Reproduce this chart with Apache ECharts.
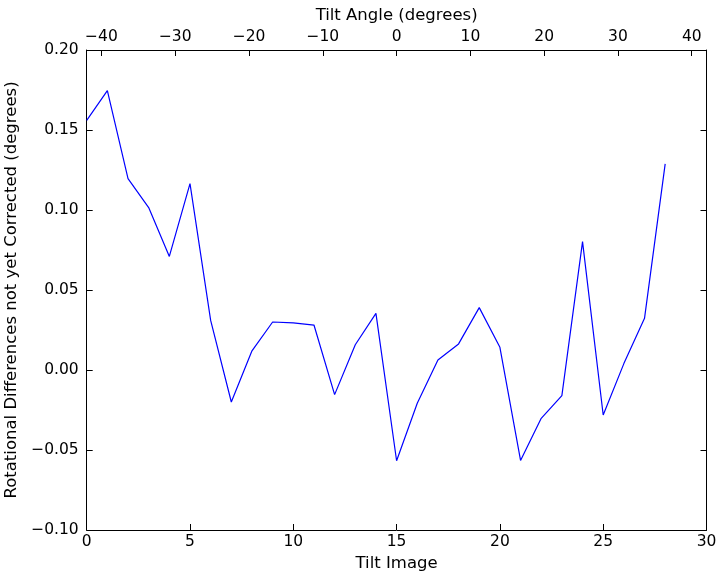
<!DOCTYPE html>
<html>
<head>
<meta charset="utf-8">
<script src="https://cdn.jsdelivr.net/npm/echarts@6/dist/echarts.min.js"></script>
<style>html,body{margin:0;padding:0;background:#fff;}#c{width:725px;height:579px;}</style>
</head>
<body>
<div id="c"></div>
<script>
var tiltImages = [0,1,2,3,4,5,6,7,8,9,10,11,12,13,14,15,16,17,18,19,20,21,22,23,24,25,26,27,28];
var rotDiff = [0.156,0.1746,0.1196,0.1015,0.0710,0.1165,0.031,-0.020,0.012,0.030,0.0294,0.0281,-0.0154,0.0158,0.0354,-0.0567,-0.0208,0.0063,0.0163,0.0390,0.0142,-0.0565,-0.0302,-0.0160,0.0802,-0.0281,0.004,0.0323,0.1288];
var angleTicks = [-40,-30,-20,-10,0,10,20,30,40];
var yTicks = [-0.10,-0.05,0.00,0.05,0.10,0.15,0.20];
var bottomTicks = [0,5,10,15,20,25,30];

var FONT = 'DejaVu Sans';
var minus = function(s){ return String(s).replace('-', '\u2212'); };
var chart = echarts.init(document.getElementById('c'), null, {renderer:'canvas'});
var lbl = {color:'#000', fontFamily:FONT, fontSize:15.5};
var nameStyle = {color:'#000', fontFamily:FONT, fontSize:16.5};
chart.setOption({
  animation:false,
  backgroundColor:'#fff',
  grid:{left:86.7, right:18.5, top:50, bottom:49, show:false, containLabel:false, outerBoundsMode:'none'},
  xAxis:[
    {type:'value', position:'bottom', min:0, max:30, interval:5,
     name:'Tilt Image', nameLocation:'middle', nameGap:22, nameTextStyle:nameStyle,
     axisLine:{show:true, onZero:false, lineStyle:{color:'#000', width:1}},
     axisTick:{show:true, inside:true, length:6, customValues:bottomTicks, lineStyle:{color:'#000'}},
     axisLabel:Object.assign({margin:4, customValues:bottomTicks, formatter:function(v){return minus(v);}}, lbl),
     splitLine:{show:false}},
    {type:'value', position:'top', min:-42, max:42,
     name:'Tilt Angle (degrees)', nameLocation:'middle', nameGap:26, nameTextStyle:nameStyle,
     axisLine:{show:true, onZero:false, lineStyle:{color:'#000', width:1}},
     axisTick:{show:true, inside:true, length:6, customValues:angleTicks, lineStyle:{color:'#000'}},
     axisLabel:Object.assign({margin:5, customValues:angleTicks, formatter:function(v){return minus(v);}}, lbl),
     splitLine:{show:false}}
  ],
  yAxis:[
    {type:'value', position:'left', min:-0.10, max:0.20, interval:0.05,
     name:'Rotational Differences not yet Corrected (degrees)', nameLocation:'middle', nameGap:62, nameTextStyle:nameStyle,
     axisLine:{show:true, onZero:false, lineStyle:{color:'#000', width:1}},
     axisTick:{show:true, inside:true, length:6, customValues:yTicks, lineStyle:{color:'#000'}},
     axisLabel:Object.assign({margin:8, customValues:yTicks, formatter:function(v){return minus(v.toFixed(2));}}, lbl),
     splitLine:{show:false}},
    {type:'value', position:'right', min:-0.10, max:0.20, interval:0.05,
     axisLine:{show:true, onZero:false, lineStyle:{color:'#000', width:1}},
     axisTick:{show:true, inside:true, length:6, lineStyle:{color:'#000'}},
     axisLabel:{show:false},
     splitLine:{show:false}}
  ],
  series:[{
    type:'line', xAxisIndex:0, yAxisIndex:0,
    data: tiltImages.map(function(x,i){return [x, rotDiff[i]];}),
    showSymbol:false, symbol:'none',
    lineStyle:{color:'#0000ff', width:1.2}
  }]
});
</script>
</body>
</html>
